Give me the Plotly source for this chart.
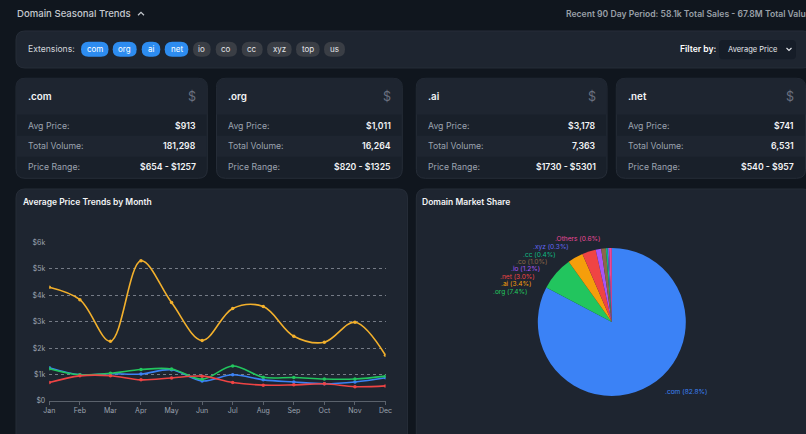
import plotly.graph_objects as go

# ---------------- data ----------------
months = ["Jan", "Feb", "Mar", "Apr", "May", "Jun", "Jul", "Aug", "Sep", "Oct", "Nov", "Dec"]
com_prices = [1257, 990, 1030, 1020, 1180, 760, 990, 800, 720, 654, 720, 880]
org_prices = [1220, 990, 1050, 1190, 1210, 820, 1325, 900, 890, 830, 830, 940]
ai_prices = [4300, 3830, 2260, 5301, 3720, 2290, 3500, 3570, 2450, 2220, 2980, 1730]
net_prices = [700, 950, 957, 800, 870, 940, 700, 600, 610, 650, 540, 570]

y_tick_vals = [0, 1000, 2000, 3000, 4000, 5000, 6000]
y_tick_text = ["$0", "$1k", "$2k", "$3k", "$4k", "$5k", "$6k"]

share_labels = [".com", ".org", ".ai", ".net", ".io", ".co", ".cc", ".xyz", ".Others"]
share_values = [82.8, 7.4, 3.4, 3.0, 1.2, 1.0, 0.4, 0.3, 0.6]

extensions = ["com", "org", "ai", "net", "io", "co", "cc", "xyz", "top", "us"]
ext_active = [True, True, True, True, False, False, False, False, False, False]

stat_exts = [".com", ".org", ".ai", ".net"]
stat_avg_price = ["$913", "$1,011", "$3,178", "$741"]
stat_total_volume = ["181,298", "16,264", "7,363", "6,531"]
stat_price_range = ["$654 - $1257", "$820 - $1325", "$1730 - $5301", "$540 - $957"]

# ---------------- styles / layout constants ----------------
W, H = 806, 434
FONT = "Inter"
PAGE_BG = "#10161e"
CARD_BG = "#1e2530"
ROW_DARK = "#19202a"
CARD_EDGE = "#262d38"
MUTED = "#9ca3af"
WHITE = "#f3f4f6"

series_colors = {"com": "#3b82f6", "org": "#22c55e", "ai": "#f2b02c", "net": "#ef4444"}
share_colors = ["#3b82f6", "#22c55e", "#f59e0b", "#ef4444", "#a855f7",
                "#8d6748", "#10b981", "#6366f1", "#ec4899"]

pill_pos = [(81, 108.5), (112.7, 136.7), (141.7, 160.3), (164.7, 188.3), (193, 210.7),
            (215.7, 237), (241.7, 262.7), (267, 291.7), (296, 319.7), (324, 345)]
card_pos = [(16, 207.3), (216.5, 402.3), (416.3, 607), (616.3, 805.5)]
share_label_pos = [(665, 391.7, "left"), (527, 292, "right"), (530.7, 284, "right"),
                   (534.7, 276.7, "right"), (540, 269.3, "right"), (547, 262, "right"),
                   (555.7, 254.7, "right"), (569, 247, "right"), (600, 239.3, "right")]


def X(p):
    return p / W


def Y(p):
    return 1 - p / H


def P(x, y):
    return f"{X(x):.5f},{Y(y):.5f}"


def rrect(x0, y0, x1, y1, r, tl=True, tr=True, br=True, bl=True):
    s = f"M {P(x0 + (r if tl else 0), y0)}"
    s += f" L {P(x1 - (r if tr else 0), y0)}"
    if tr:
        s += f" Q {P(x1, y0)} {P(x1, y0 + r)}"
    s += f" L {P(x1, y1 - (r if br else 0))}"
    if br:
        s += f" Q {P(x1, y1)} {P(x1 - r, y1)}"
    s += f" L {P(x0 + (r if bl else 0), y1)}"
    if bl:
        s += f" Q {P(x0, y1)} {P(x0, y1 - r)}"
    s += f" L {P(x0, y0 + (r if tl else 0))}"
    if tl:
        s += f" Q {P(x0, y0)} {P(x0 + r, y0)}"
    return s + " Z"


shapes = []
annotations = []


def box(x0, y0, x1, y1, r, fill, edge=None, **corners):
    shapes.append(dict(type="path", xref="paper", yref="paper", layer="below",
                       path=rrect(x0, y0, x1, y1, r, **corners), fillcolor=fill,
                       line=dict(width=1 if edge else 0, color=edge or fill)))


def rect(x0, y0, x1, y1, fill):
    shapes.append(dict(type="rect", xref="paper", yref="paper", layer="below",
                       x0=X(x0), x1=X(x1), y0=Y(y1), y1=Y(y0), fillcolor=fill,
                       line=dict(width=0)))


def text(x, y, s, size, color, anchor="left", weight=400, family=FONT):
    annotations.append(dict(x=X(x), y=Y(y), xref="paper", yref="paper", text=s,
                            showarrow=False, xanchor=anchor, yanchor="middle",
                            borderpad=0, borderwidth=0,
                            font=dict(size=size, color=color, family=family, weight=weight)))


def polyline(pts, color, width=1.2):
    s = "M " + " L ".join(P(x, y) for x, y in pts)
    shapes.append(dict(type="path", xref="paper", yref="paper", layer="above",
                       path=s, line=dict(color=color, width=width)))


# ---------- header ----------
text(16.5, 13.5, "Domain Seasonal Trends", 9.6, "#c4c8ce", weight=500)
polyline([(138, 15.3), (141, 12.3), (144, 15.3)], "#c4c8ce", 1.2)
text(566, 13.5, "Recent 90 Day Period: 58.1k Total Sales - 67.8M Total Value", 8.6,
     "#9aa0a8", weight=600)

# ---------- filter bar ----------
box(16, 31, 812, 68, 9, CARD_BG, CARD_EDGE)
text(27.5, 49, "Extensions:", 8.6, "#d1d5db")
for ext, act, (x0, x1) in zip(extensions, ext_active, pill_pos):
    box(x0, 41.7, x1, 56.7, 7.5, "#2d8cf0" if act else "#3a3e45")
    text((x0 + x1) / 2, 49.2, ext, 8, "#ffffff" if act else "#e5e7eb", anchor="center")
text(679.5, 49, "Filter by:", 8.6, "#ffffff", weight=600)
box(719, 40, 796, 59.3, 4, "#161d28")
text(727.5, 49.5, "Average Price", 7.5, "#e5e7eb")
polyline([(786.5, 48), (789, 50.5), (791.5, 48)], "#e5e7eb", 1.1)

# ---------- stat cards ----------
for i, (x0, x1) in enumerate(card_pos):
    box(x0, 78.3, x1, 178.3, 9, ROW_DARK, CARD_EDGE)
    box(x0, 78.3, x1, 114.5, 9, CARD_BG, None, br=False, bl=False)
    rect(x0 + 0.5, 135.7, x1 - 0.5, 156.7, CARD_BG)
    lx, rx = x0 + 11.5, x1 - 11.5
    text(lx, 97, stat_exts[i], 9.8, WHITE, weight=600)
    text(rx, 96.5, "$", 12.5, "#6b7280", anchor="right")
    text(lx, 125.6, "Avg Price:", 8.7, MUTED)
    text(rx, 125.6, stat_avg_price[i], 8.7, WHITE, anchor="right", weight=600)
    text(lx, 146.3, "Total Volume:", 8.7, MUTED)
    text(rx, 146.3, stat_total_volume[i], 8.7, WHITE, anchor="right", weight=600)
    text(lx, 167.4, "Price Range:", 8.7, MUTED)
    text(rx, 167.4, stat_price_range[i], 8.7, WHITE, anchor="right", weight=600)

# ---------- chart cards ----------
box(16, 189, 407.5, 446, 9, CARD_BG, CARD_EDGE)
box(416.3, 189, 812, 446, 9, CARD_BG, CARD_EDGE)
text(22.7, 201.8, "Average Price Trends by Month", 8.5, WHITE, weight=600)
text(422.3, 201.8, "Domain Market Share", 8.5, WHITE, weight=600)

# ---------- line chart ----------
fig = go.Figure()
for name, vals in [("com", com_prices), ("org", org_prices), ("net", net_prices), ("ai", ai_prices)]:
    fig.add_trace(go.Scatter(
        x=months, y=vals, mode="lines+markers", name="." + name,
        line=dict(color=series_colors[name], width=1.6, shape="spline", smoothing=1.0),
        marker=dict(size=3.5, color=series_colors[name]),
        showlegend=False, hoverinfo="skip"))

# ---------- pie ----------
cx, cy, r = 611.8, 322, 74
fig.add_trace(go.Pie(
    labels=share_labels, values=share_values, sort=False, direction="clockwise",
    rotation=0, marker=dict(colors=share_colors, line=dict(width=0)),
    textinfo="none", hoverinfo="skip", showlegend=False,
    domain=dict(x=[X(cx - r), X(cx + r)], y=[Y(cy + r), Y(cy - r)])))

for lab, val, col, (lx, ly, anc) in zip(share_labels, share_values, share_colors, share_label_pos):
    text(lx, ly, f"{lab} ({val:.1f}%)", 6.6, col, anchor=anc)

fig.update_layout(
    width=W, height=H, margin=dict(l=0, r=0, t=0, b=0, autoexpand=False),
    paper_bgcolor=PAGE_BG, plot_bgcolor="rgba(0,0,0,0)",
    font=dict(family=FONT, color=MUTED),
    shapes=shapes, annotations=annotations,
    xaxis=dict(domain=[X(49.3), X(385.5)], range=[0, 11], showgrid=False, zeroline=False,
               showline=True, linecolor="#5b626c", linewidth=1, ticks="outside", ticklen=3,
               tickcolor="#5b626c", tickfont=dict(size=7, color=MUTED, family=FONT),
               fixedrange=True),
    yaxis=dict(domain=[Y(401), Y(242.3)], range=[0, 6000], tickvals=y_tick_vals,
               ticktext=y_tick_text, showgrid=True, gridcolor="rgba(190,195,205,0.55)",
               griddash="dot", gridwidth=1, zeroline=False, showline=False,
               ticklabelstandoff=3,
               tickfont=dict(size=7, color=MUTED, family=FONT), ticks="", fixedrange=True),
)

fig.write_html("out.html")
